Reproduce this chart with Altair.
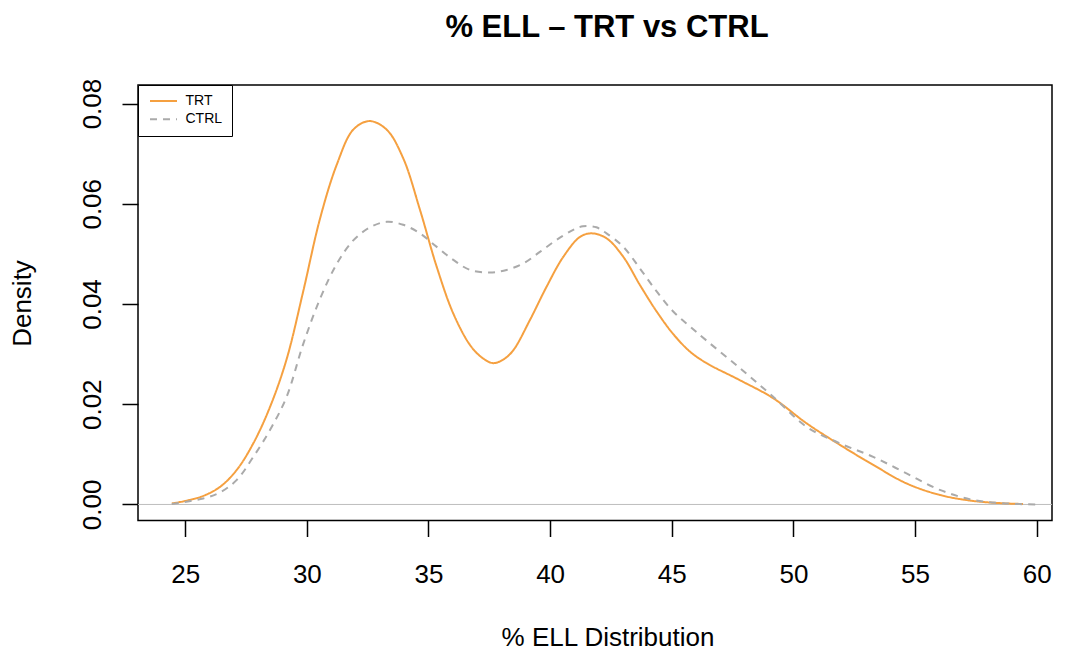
import altair as alt
import pandas as pd

# ---- data ----
trt_x = [24.45, 25.0, 25.74, 26.43, 27.12, 27.80, 28.49, 29.17, 29.85, 30.54, 31.23,
         31.91, 32.57, 33.28, 33.96, 34.65, 35.34, 36.02, 36.71, 37.20, 37.66, 38.10,
         38.49, 39.17, 39.86, 40.54, 41.23, 41.71, 42.32, 43.01, 43.69, 44.38, 45.06,
         45.75, 46.43, 47.80, 49.17, 50.54, 51.91, 53.28, 54.65, 56.02, 57.39, 58.76, 59.44]
trt_y = [0.0002, 0.0007, 0.0017, 0.0035, 0.0069, 0.0122, 0.0195, 0.0290, 0.0425, 0.0570, 0.0678,
         0.0748, 0.0765, 0.0748, 0.0691, 0.0588, 0.0474, 0.0381, 0.0318, 0.0293, 0.0282, 0.0290,
         0.0308, 0.0368, 0.0435, 0.0494, 0.0534, 0.0541, 0.0531, 0.0494, 0.0438, 0.0385, 0.0340,
         0.0305, 0.0282, 0.0248, 0.0212, 0.0162, 0.0119, 0.0079, 0.0042, 0.0019, 0.0007, 0.0002, 0.0001]

ctrl_x = [24.45, 25.74, 26.43, 27.12, 27.80, 28.49, 29.17, 29.85, 30.54, 31.23, 31.91,
          32.60, 33.28, 33.96, 34.65, 35.34, 36.02, 36.71, 37.53, 38.21, 38.90, 39.58,
          40.27, 40.95, 41.35, 41.90, 42.32, 43.01, 43.69, 44.38, 45.06, 45.75, 46.43,
          47.80, 49.17, 50.54, 51.91, 53.28, 54.65, 56.02, 57.39, 58.76, 60.06]
ctrl_y = [0.0001, 0.0012, 0.0024, 0.0049, 0.0095, 0.0149, 0.0215, 0.0320, 0.0410, 0.0480, 0.0527,
          0.0553, 0.0564, 0.0558, 0.0541, 0.0514, 0.0488, 0.0468, 0.0463, 0.0468, 0.0481, 0.0504,
          0.0528, 0.0548, 0.0555, 0.0553, 0.0541, 0.0514, 0.0471, 0.0425, 0.0385, 0.0355, 0.0327,
          0.0272, 0.0215, 0.0155, 0.0122, 0.0095, 0.0062, 0.0029, 0.0009, 0.0002, 0.0000]

series = ["TRT", "CTRL"]
series_colors = ["#F5A040", "#AAAAAA"]
series_dash = [[1, 0], [7, 6]]
x_ticks = [25, 30, 35, 40, 45, 50, 55, 60]
y_ticks = [0.0, 0.02, 0.04, 0.06, 0.08]
zero_line = [0.0]

df = pd.concat([
    pd.DataFrame({"x": trt_x, "density": trt_y, "group": "TRT"}),
    pd.DataFrame({"x": ctrl_x, "density": ctrl_y, "group": "CTRL"}),
], ignore_index=True)

FONT = "Liberation Sans"
W, H = 914, 435.5

x_scale = alt.Scale(domain=[23.06, 60.63], nice=False, zero=False)
y_scale = alt.Scale(domain=[-0.0032, 0.0837], nice=False, zero=False)

x_axis = alt.Axis(values=x_ticks, format="d", title="% ELL Distribution",
                  labelBaseline="alphabetic", labelPadding=46, labelFlush=False,
                  labelOverlap=False, titleX=469.5, titleY=124.5,
                  titleBaseline="alphabetic", titleAlign="center")
y_axis = alt.Axis(values=y_ticks, format=".2f", title="Density",
                  labelAngle=-90, labelAlign="center", labelBaseline="alphabetic",
                  labelPadding=22, labelOverlap=False, labelFlush=False,
                  titleX=-108, titleY=218, titleAngle=-90,
                  titleBaseline="alphabetic", titleAlign="center")

zero = alt.Chart(pd.DataFrame({"y": zero_line})).mark_rule(
    color="#BEBEBE", strokeWidth=1
).encode(y=alt.Y("y:Q", scale=y_scale, axis=y_axis))

lines = alt.Chart(df).mark_line(strokeWidth=2, interpolate="catmull-rom").encode(
    x=alt.X("x:Q", scale=x_scale, axis=x_axis),
    y=alt.Y("density:Q", scale=y_scale, axis=y_axis),
    color=alt.Color("group:N", scale=alt.Scale(domain=series, range=series_colors),
                    sort=series, title=None),
    strokeDash=alt.StrokeDash("group:N", scale=alt.Scale(domain=series, range=series_dash),
                              sort=series, title=None),
    detail="group:N",
)

chart = alt.layer(zero, lines).properties(
    width=W, height=H,
    title=alt.Title("% ELL – TRT vs CTRL", fontSize=31, fontWeight="bold", font=FONT,
                    color="black", anchor="middle", frame="group", dx=12,
                    baseline="alphabetic", offset=10),
    autosize=alt.AutoSizeParams(type="none"),
    padding={"left": 130, "top": 77, "right": 8, "bottom": 131},
).configure(
    font=FONT,
    background="white",
).configure_view(
    stroke="black", strokeWidth=1.5,
).configure_axis(
    grid=False, domain=False, tickColor="black", tickSize=16, tickWidth=1.5,
    labelFont=FONT, labelFontSize=26, labelColor="black",
    titleFont=FONT, titleFontSize=26, titleFontWeight="normal", titleColor="black",
).configure_legend(
    orient="top-left", offset=0, padding=9, fillColor="white", strokeColor="black",
    labelFont=FONT, labelFontSize=14, labelColor="black",
    symbolType="M-2.7,0H2.7", symbolSize=100, symbolStrokeWidth=2,
    symbolOffset=9.5, labelOffset=15, rowPadding=4.3,
)

chart.save("out.html", embed_options={"renderer": "svg", "actions": False})
